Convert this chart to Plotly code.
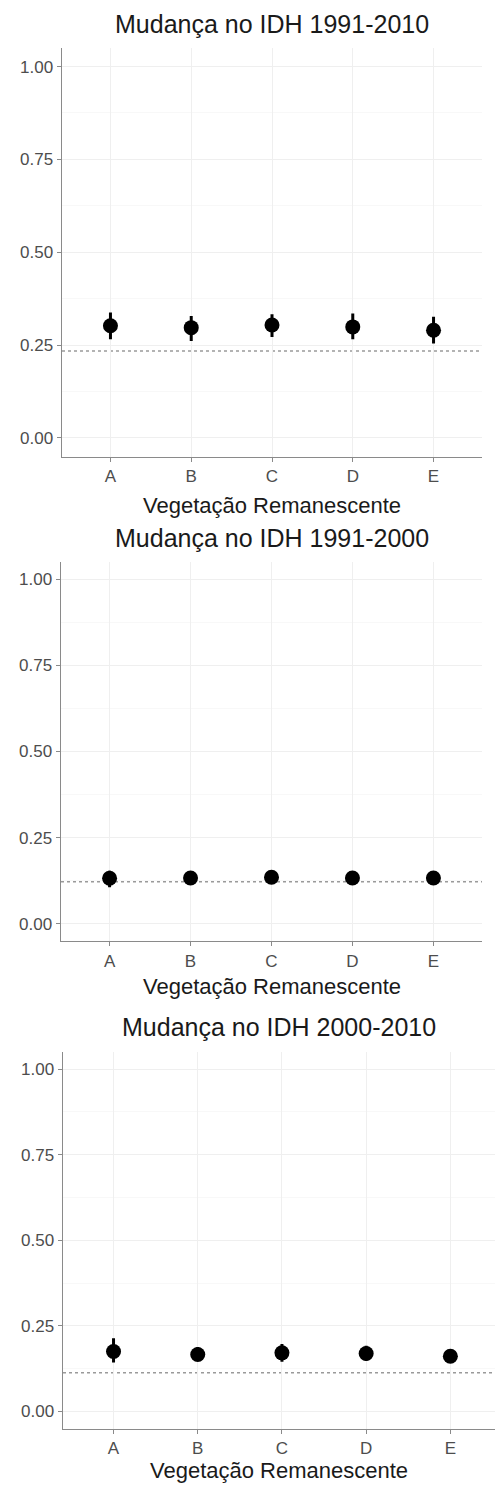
import plotly.graph_objects as go

# ---- data ----
categories = ["A", "B", "C", "D", "E"]
titles = ["Mudança no IDH 1991-2010", "Mudança no IDH 1991-2000", "Mudança no IDH 2000-2010"]
x_title = "Vegetação Remanescente"

mean_1991_2010 = [0.302, 0.297, 0.304, 0.299, 0.290]
low_1991_2010 = [0.266, 0.261, 0.272, 0.266, 0.254]
high_1991_2010 = [0.338, 0.328, 0.333, 0.335, 0.326]

mean_1991_2000 = [0.132, 0.133, 0.135, 0.133, 0.133]
low_1991_2000 = [0.106, 0.113, 0.117, 0.113, 0.114]
high_1991_2000 = [0.154, 0.151, 0.153, 0.152, 0.151]

mean_2000_2010 = [0.175, 0.166, 0.171, 0.169, 0.161]
low_2000_2010 = [0.143, 0.147, 0.145, 0.148, 0.144]
high_2000_2010 = [0.214, 0.188, 0.197, 0.192, 0.180]

reference_line = [0.234, 0.122, 0.113]
y_ticks = [0.0, 0.25, 0.5, 0.75, 1.0]
y_ticklabels = ["0.00", "0.25", "0.50", "0.75", "1.00"]

# ---- layout geometry (pixels) ----
W, H = 495, 1485
panels = [
    dict(mean=mean_1991_2010, low=low_1991_2010, high=high_1991_2010,
         x0=62, x1=482, top=48, bottom=456.5, xr=[-0.6, 4.6],
         title_y=24, xtitle_y=505),
    dict(mean=mean_1991_2000, low=low_1991_2000, high=high_1991_2000,
         x0=61, x1=482, top=562, bottom=941, xr=[-0.6, 4.6],
         title_y=538, xtitle_y=986),
    dict(mean=mean_2000_2010, low=low_2000_2010, high=high_2000_2010,
         x0=63, x1=495, top=1052, bottom=1428.5, xr=[-0.6, 4.53],
         title_y=1027, xtitle_y=1470),
]

FONT = "Liberation Sans, Arial, Helvetica, sans-serif"
fig = go.Figure()
annotations = []
shapes = []

for i, p in enumerate(panels):
    n = "" if i == 0 else str(i + 1)
    xa, ya = "x" + n, "y" + n
    err_plus = [h - m for h, m in zip(p["high"], p["mean"])]
    err_minus = [m - l for m, l in zip(p["mean"], p["low"])]
    fig.add_trace(go.Scatter(
        x=categories, y=p["mean"], mode="markers", xaxis=xa, yaxis=ya,
        marker=dict(color="black", size=15, line=dict(width=0)),
        error_y=dict(type="data", array=err_plus, arrayminus=err_minus,
                     color="black", thickness=3, width=0),
        showlegend=False, hoverinfo="skip"))

    dom_x = [p["x0"] / W, p["x1"] / W]
    dom_y = [1 - p["bottom"] / H, 1 - p["top"] / H]
    axis_common = dict(showline=True, linecolor="#8a8a8a", linewidth=1.4,
                       ticks="outside", ticklen=4, tickwidth=1, tickcolor="#8a8a8a",
                       tickfont=dict(family=FONT, size=17, color="#4d4d4d"),
                       zeroline=False, gridcolor="#efefef", gridwidth=1)
    fig.layout["xaxis" + n] = dict(
        domain=dom_x, anchor=ya, type="category", range=p["xr"],
        categoryorder="array", categoryarray=categories,
        fixedrange=True, **axis_common)
    fig.layout["yaxis" + n] = dict(
        domain=dom_y, anchor=xa, range=[-0.05, 1.05],
        tickvals=y_ticks, ticktext=y_ticklabels,
        minor=dict(tickvals=[0.125, 0.375, 0.625, 0.875], showgrid=True,
                   gridcolor="#f6f6f6", gridwidth=0.8, ticks=""),
        fixedrange=True, **axis_common)

    shapes.append(dict(type="line", xref=xa + " domain", yref=ya,
                       x0=0, x1=1, y0=reference_line[i], y1=reference_line[i],
                       line=dict(color="#9a9a9a", width=1.6, dash="dot"),
                       layer="below"))

    cx = (p["x0"] + p["x1"]) / 2 / W
    annotations.append(dict(text=titles[i], xref="paper", yref="paper",
                            x=cx, y=1 - p["title_y"] / H, xanchor="center",
                            yanchor="middle", showarrow=False,
                            font=dict(family=FONT, size=25, color="#1a1a1a")))
    annotations.append(dict(text=x_title, xref="paper", yref="paper",
                            x=cx, y=1 - p["xtitle_y"] / H, xanchor="center",
                            yanchor="middle", showarrow=False,
                            font=dict(family=FONT, size=22, color="#1a1a1a")))

fig.update_layout(width=W, height=H, margin=dict(l=0, r=0, t=0, b=0),
                  paper_bgcolor="white", plot_bgcolor="white",
                  annotations=annotations, shapes=shapes, showlegend=False)

fig.write_html(
    "out.html",
    config={"displayModeBar": False, "staticPlot": True},
    post_script="document.body.style.margin='0';document.body.style.padding='0';"
                "document.body.style.overflow='hidden';",
)
